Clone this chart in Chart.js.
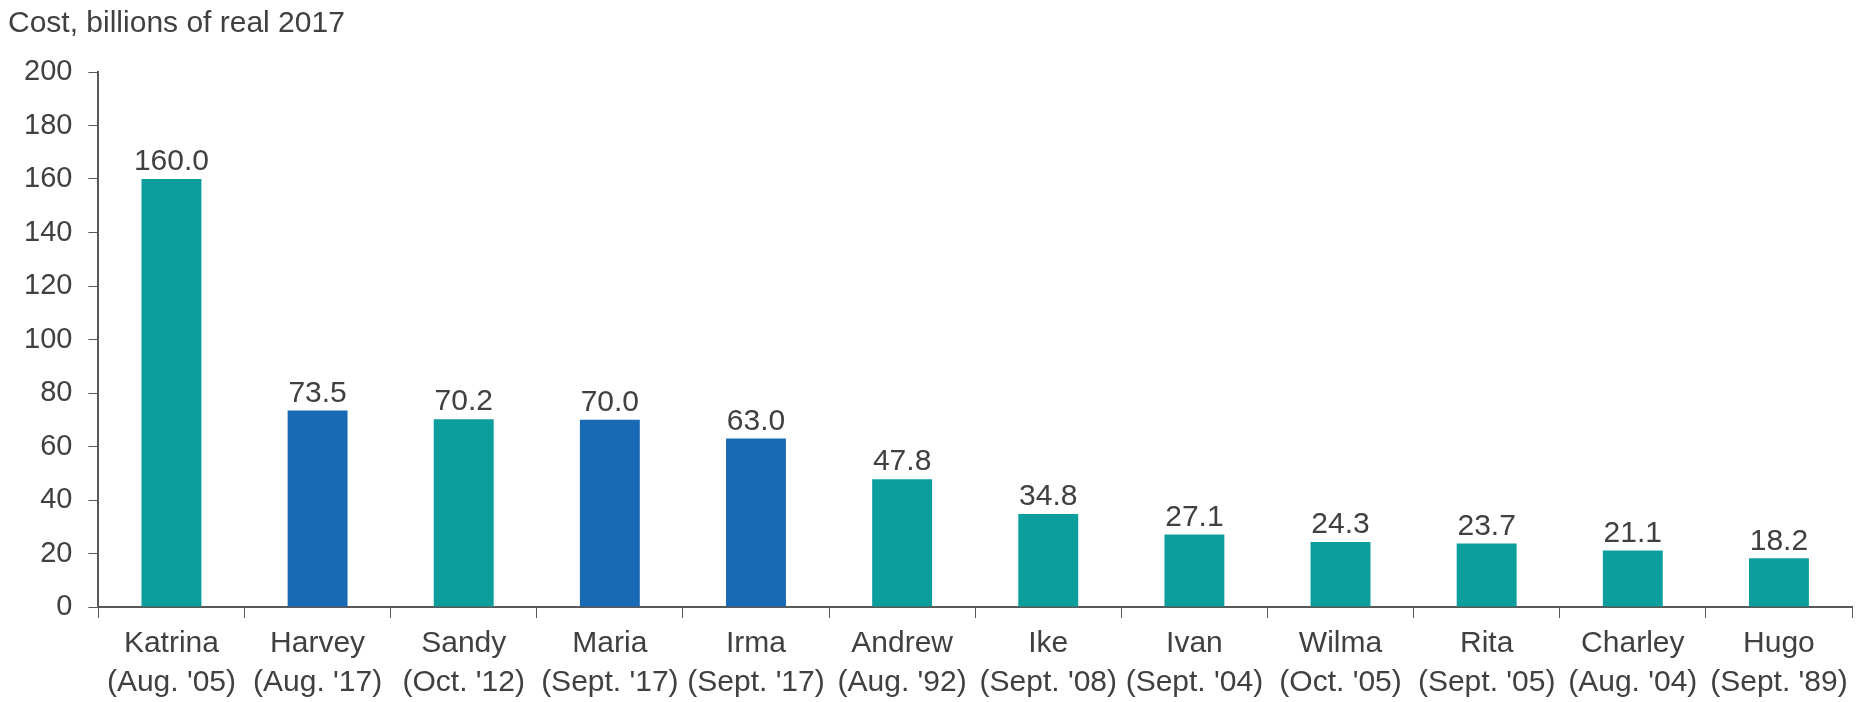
<!DOCTYPE html>
<html lang="en">
<head>
    <meta charset="UTF-8">
    <title>Costliest hurricanes</title>
    <script src="https://cdn.jsdelivr.net/npm/chart.js"></script>
    <style>
        body { margin: 0; background: #fff; }
        #wrap { width: 1874px; height: 702px; }
    </style>
</head>
<body>
    <div id="wrap"><canvas id="costChart" width="1874" height="702"></canvas></div>
    <script>
        // data
        const storms = ['Katrina', 'Harvey', 'Sandy', 'Maria', 'Irma', 'Andrew', 'Ike', 'Ivan', 'Wilma', 'Rita', 'Charley', 'Hugo'];
        const dates = ["(Aug. '05)", "(Aug. '17)", "(Oct. '12)", "(Sept. '17)", "(Sept. '17)", "(Aug. '92)", "(Sept. '08)", "(Sept. '04)", "(Oct. '05)", "(Sept. '05)", "(Aug. '04)", "(Sept. '89)"];
        const costs = [160.0, 73.5, 70.2, 70.0, 63.0, 47.8, 34.8, 27.1, 24.3, 23.7, 21.1, 18.2];
        const yTicks = [0, 20, 40, 60, 80, 100, 120, 140, 160, 180, 200];

        const TEAL = '#0b9e9c';
        const BLUE = '#186ab5';
        const TEXT = '#404040';
        const FONT = "'Liberation Sans', Arial, sans-serif";

        // 2017 storms in blue
        const barColors = dates.map(d => d.includes("'17") ? BLUE : TEAL);

        const valueLabels = {
            id: 'valueLabels',
            afterDatasetsDraw(chart) {
                const ctx = chart.ctx;
                const meta = chart.getDatasetMeta(0);
                ctx.save();
                ctx.font = '30px ' + FONT;
                ctx.fillStyle = TEXT;
                ctx.textAlign = 'center';
                ctx.textBaseline = 'bottom';
                meta.data.forEach((bar, i) => {
                    ctx.fillText(costs[i].toFixed(1), bar.x, bar.y - 2);
                });
                ctx.restore();
            }
        };

        new Chart(document.getElementById('costChart').getContext('2d'), {
            type: 'bar',
            data: {
                labels: storms.map((s, i) => [s, dates[i]]),
                datasets: [{
                    data: costs,
                    backgroundColor: barColors,
                    borderWidth: 0,
                    categoryPercentage: 1,
                    barPercentage: 0.41
                }]
            },
            options: {
                responsive: false,
                animation: false,
                layout: { padding: { left: 8, right: 22, top: 0, bottom: -6 } },
                plugins: {
                    legend: { display: false },
                    tooltip: { enabled: false },
                    title: {
                        display: true,
                        text: 'Cost, billions of real 2017',
                        align: 'start',
                        color: TEXT,
                        font: { family: FONT, size: 30, weight: 'normal' },
                        padding: { top: 6, bottom: 30 }
                    }
                },
                scales: {
                    x: {
                        grid: { display: true, drawOnChartArea: false, tickLength: 11, color: '#595959', offset: true },
                        border: { display: true, color: '#595959', width: 2 },
                        ticks: {
                            color: TEXT,
                            padding: 6,
                            maxRotation: 0,
                            autoSkip: false,
                            font: { family: FONT, size: 30, lineHeight: 1.3 }
                        }
                    },
                    y: {
                        min: 0,
                        max: 200,
                        afterBuildTicks(axis) { axis.ticks = yTicks.map(v => ({ value: v })); },
                        grid: { display: true, drawOnChartArea: false, tickLength: 10, color: '#595959' },
                        border: { display: true, color: '#595959', width: 2 },
                        ticks: {
                            color: TEXT,
                            padding: 16,
                            font: { family: FONT, size: 29 }
                        }
                    }
                }
            },
            plugins: [valueLabels]
        });
    </script>
</body>
</html>
